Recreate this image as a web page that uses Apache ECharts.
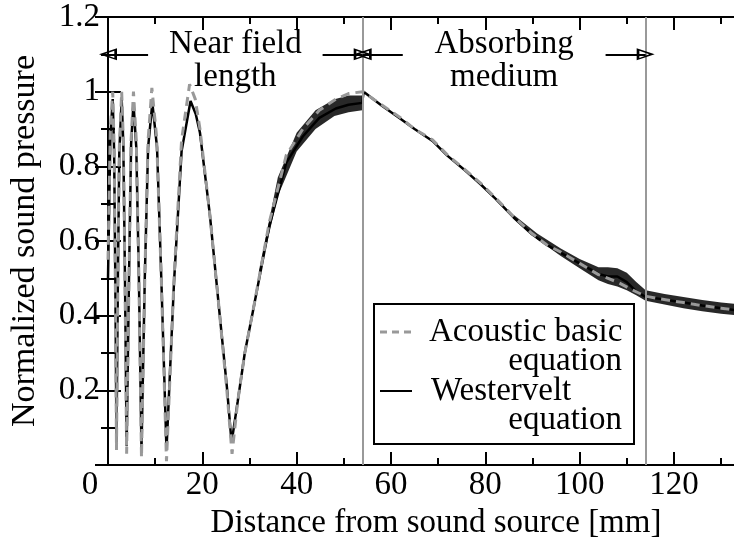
<!DOCTYPE html>
<html>
<head>
<meta charset="utf-8">
<script src="https://cdn.jsdelivr.net/npm/echarts@6/dist/echarts.min.js"></script>
<style>
html, body { margin: 0; padding: 0; background: #fff; overflow: hidden; }
#chart { width: 734px; height: 546px; }
</style>
</head>
<body>
<div id="chart"></div>
<script>
// values
const acousticX = [0, 0.5, 1.0, 1.3, 1.55, 1.8, 2.1, 2.4, 2.9, 3.25, 3.6, 3.95, 4.45, 4.9, 5.4, 6.0, 6.55, 7.1, 7.8, 8.5, 9.3,
    10.3, 11.3, 12.4, 14.0, 15.6, 17.3, 18.5, 19.5, 21.6, 23.7, 25.2, 26.3, 27.5, 29.0, 30.7, 34.2, 37.8, 41.3, 44.8, 48.3, 51, 54,
    58, 61.7, 65, 68.8, 72, 75.8, 79, 82.2, 86, 89.9, 93, 96, 100, 104, 108, 111, 114, 117, 122, 126, 130, 134];
const acousticY = [0.55, 0.9, 1.0, 0.85, 0.5, 0.04, 0.5, 0.85, 1.0, 0.87, 0.5, 0.03, 0.5, 0.87, 1.0, 0.87, 0.5, 0.02, 0.5, 0.87, 1.01,
    0.88, 0.5, 0.01, 0.5, 0.87, 1.02, 0.98, 0.9, 0.67, 0.4, 0.2, 0.03, 0.17, 0.3, 0.41, 0.65, 0.83, 0.9, 0.95, 0.98, 0.995, 1.0,
    0.965, 0.933, 0.9, 0.871, 0.83, 0.79, 0.755, 0.715, 0.665, 0.62, 0.59, 0.57, 0.54, 0.51, 0.49, 0.47, 0.452, 0.445, 0.435, 0.427, 0.42, 0.413];

const westerveltX = [0, 0.5, 1.0, 1.3, 1.55, 1.8, 2.1, 2.4, 2.9, 3.25, 3.6, 3.95, 4.45, 4.9, 5.4, 6.0, 6.55, 7.1, 7.8, 8.5, 9.4,
    10.4, 11.3, 12.4, 14.0, 15.6, 17.5, 18.6, 19.5, 21.6, 23.7, 25.2, 26.2, 27.5, 29.0, 30.7, 34.2, 37.8, 41.3, 44.8, 48.3, 51, 53.9,
    54.2, 58, 61.7, 65, 68.8, 72, 75.8, 79, 82.2, 86, 89.9, 93, 96, 100, 104, 106, 108, 110, 112, 114, 117, 122, 126, 130, 134];
const westerveltY = [0.5, 0.88, 0.98, 0.84, 0.5, 0.06, 0.5, 0.84, 0.98, 0.86, 0.5, 0.05, 0.5, 0.86, 0.97, 0.85, 0.5, 0.04, 0.5, 0.85, 0.97,
    0.85, 0.5, 0.04, 0.49, 0.84, 0.975, 0.94, 0.89, 0.67, 0.4, 0.21, 0.06, 0.17, 0.3, 0.41, 0.64, 0.81, 0.88, 0.93, 0.955, 0.965, 0.97,
    1.0, 0.963, 0.93, 0.9, 0.868, 0.828, 0.788, 0.752, 0.713, 0.663, 0.618, 0.59, 0.568, 0.54, 0.512, 0.505, 0.505, 0.49, 0.465, 0.45,
    0.445, 0.435, 0.427, 0.42, 0.413];

// envelope of the dense Westervelt ripple
const rippleNearX = [32, 36, 40, 44, 48, 51, 53.9];
const rippleNearLow = [0.5, 0.72, 0.84, 0.9, 0.935, 0.945, 0.95];
const rippleNearHigh = [0.52, 0.77, 0.89, 0.95, 0.98, 0.99, 0.99];
const rippleFarX = [86, 91, 96, 100, 104, 106, 108, 110, 112, 114, 118, 122, 126, 130, 134];
const rippleFarLow = [0.66, 0.605, 0.56, 0.527, 0.495, 0.485, 0.478, 0.468, 0.455, 0.44, 0.43, 0.42, 0.412, 0.405, 0.4];
const rippleFarHigh = [0.67, 0.62, 0.58, 0.552, 0.53, 0.53, 0.527, 0.515, 0.49, 0.468, 0.458, 0.45, 0.442, 0.435, 0.43];

const xTickLabels = [0, 20, 40, 60, 80, 100, 120];
const regionEdges = [0, 54, 114];
const regionNames = ['Near field\nlength', 'Absorbing\nmedium'];
const arrowLen = 8.5;
const arrowLevel = 1.1;
const regionLabelLevel = 1.082;

const FONT = 'Liberation Serif';
const arrowHead = 'path://M0,0 L10,20 L-10,20 Z M0,6 L-6,17 L6,17 Z';

function pairs(xs, ys)
{
    return xs.map((x, i) => [x, ys[i]]);
}

// filled band between two envelopes, drawn through the axes
function bandSeries(xs, lows, highs)
{
    return {
        type: 'custom', z: 2, silent: true,
        data: [[xs[0], lows[0]]],
        renderItem: function (params, api)
        {
            let pts = [];
            for (let i = 0; i < xs.length; i++) pts.push(api.coord([xs[i], highs[i]]));
            for (let i = xs.length - 1; i >= 0; i--) pts.push(api.coord([xs[i], lows[i]]));
            return {type: 'polygon', shape: {points: pts}, style: {fill: '#111', opacity: 0.9}};
        }
    };
}

let myChart = echarts.init(document.getElementById('chart'));

// arrows and labels for the two regions
let arrows = [];
let regionLabels = [];
for (let i = 0; i < regionNames.length; i++)
{
    let a = regionEdges[i], b = regionEdges[i + 1];
    arrows.push([{coord: [a + arrowLen, arrowLevel]}, {coord: [a, arrowLevel]}]);
    arrows.push([{coord: [b - arrowLen, arrowLevel]}, {coord: [b, arrowLevel]}]);
    regionLabels.push({coord: [(a + b) / 2, regionLabelLevel], label: {formatter: regionNames[i]}});
}

let tickAxis = function (pos, interval, len, idx)
{
    return {
        type: 'value', position: pos, min: 0, max: 134, interval: interval,
        axisLine: {show: idx === 0, lineStyle: {color: '#000', width: 2}},
        axisTick: {show: true, inside: true, length: len, lineStyle: {color: '#000', width: 2}},
        axisLabel: {show: false},
        splitLine: {show: false}
    };
};

let xMain = tickAxis('bottom', 20, 13, 0);
xMain.axisLabel = {
    show: true, margin: 4, color: '#000', fontFamily: FONT, fontSize: 33,
    formatter: function (v)
    {
        if (v === 0) return '{z|0}';
        return xTickLabels.indexOf(v) >= 0 ? String(v) : '';
    },
    rich: {z: {fontFamily: FONT, fontSize: 33, color: '#000', padding: [0, 36, 0, 0]}}
};
xMain.name = 'Distance from sound source [mm]';
xMain.nameLocation = 'middle';
xMain.nameGap = 40;
xMain.nameTextStyle = {color: '#000', fontFamily: FONT, fontSize: 33, padding: [0, 0, 0, 24]};

let option = {
    animation: false,
    backgroundColor: '#fff',
    grid: {left: 108, right: -6, top: 17, bottom: 81, outerBoundsMode: 'none', containLabel: false},
    xAxis: [
        xMain,
        tickAxis('bottom', 10, 7, 1),
        tickAxis('top', 20, 13, 0),
        tickAxis('top', 10, 7, 1)
    ],
    yAxis: [
        {
            type: 'value', min: 0, max: 1.2, interval: 0.2,
            name: 'Normalized sound pressure', nameLocation: 'middle', nameGap: 66,
            nameTextStyle: {color: '#000', fontFamily: FONT, fontSize: 34},
            axisLine: {show: true, lineStyle: {color: '#000', width: 2}},
            axisTick: {show: true, inside: true, length: 13, lineStyle: {color: '#000', width: 2}},
            minorTick: {show: true, splitNumber: 2, length: 7, lineStyle: {color: '#000', width: 2}},
            axisLabel: {
                margin: 8, color: '#000', fontFamily: FONT, fontSize: 33,
                formatter: v => v === 0 ? '' : String(v)
            },
            splitLine: {show: false}
        },
        {
            type: 'value', position: 'right', min: 0, max: 1.2, interval: 0.2,
            axisLine: {show: true, lineStyle: {color: '#000', width: 2}},
            axisTick: {show: true, inside: true, length: 13, lineStyle: {color: '#000', width: 2}},
            minorTick: {show: true, splitNumber: 2, length: 7, lineStyle: {color: '#000', width: 2}},
            axisLabel: {show: false},
            splitLine: {show: false}
        }
    ],
    series: [
        {
            name: 'Westervelt', type: 'line', symbol: 'none', z: 2,
            data: pairs(westerveltX, westerveltY),
            lineStyle: {color: '#000', width: 2.5},
            itemStyle: {color: '#000'}
        },
        bandSeries(rippleNearX, rippleNearLow, rippleNearHigh),
        bandSeries(rippleFarX, rippleFarLow, rippleFarHigh),
        {
            name: 'Acoustic basic', type: 'line', symbol: 'none', z: 3,
            data: pairs(acousticX, acousticY),
            lineStyle: {color: '#999', width: 3, type: [9, 6]},
            itemStyle: {color: '#999'}
        },
        {
            // region borders
            type: 'line', data: [], silent: true,
            markLine: {
                silent: true, symbol: 'none', animation: false,
                label: {show: false},
                lineStyle: {color: '#999', width: 2, type: 'solid'},
                data: [{xAxis: regionEdges[1]}, {xAxis: regionEdges[2]}]
            }
        },
        {
            // region arrows and labels
            type: 'line', data: [], silent: true,
            markLine: {
                silent: true, symbol: ['none', arrowHead], symbolSize: [12, 18], animation: false,
                label: {show: false},
                lineStyle: {color: '#000', width: 2, type: 'solid'},
                data: arrows
            },
            markPoint: {
                silent: true, symbol: 'circle', symbolSize: 1, animation: false,
                itemStyle: {color: 'rgba(0,0,0,0)'},
                label: {
                    show: true, position: 'inside', color: '#000',
                    fontFamily: FONT, fontSize: 33, lineHeight: 33
                },
                data: regionLabels
            }
        }
    ],
    graphic: [
        {
            type: 'group', left: 373, top: 303, z: 100,
            children: [
                {type: 'rect', shape: {x: 0, y: 0, width: 260, height: 140}, style: {fill: '#fff', stroke: '#000', lineWidth: 2}},
                {type: 'line', shape: {x1: 6, y1: 28, x2: 38, y2: 28}, style: {stroke: '#999', lineWidth: 3, lineDash: [7, 5]}},
                {type: 'line', shape: {x1: 6, y1: 87, x2: 38, y2: 87}, style: {stroke: '#000', lineWidth: 2}},
                {type: 'text', x: 55, y: 28, style: {text: 'Acoustic basic', fill: '#000', font: '33px "' + FONT + '"', align: 'left', verticalAlign: 'middle'}},
                {type: 'text', x: 248, y: 57, style: {text: 'equation', fill: '#000', font: '33px "' + FONT + '"', align: 'right', verticalAlign: 'middle'}},
                {type: 'text', x: 57, y: 87, style: {text: 'Westervelt', fill: '#000', font: '33px "' + FONT + '"', align: 'left', verticalAlign: 'middle'}},
                {type: 'text', x: 248, y: 116, style: {text: 'equation', fill: '#000', font: '33px "' + FONT + '"', align: 'right', verticalAlign: 'middle'}}
            ]
        }
    ]
};

myChart.setOption(option);
</script>
</body>
</html>
